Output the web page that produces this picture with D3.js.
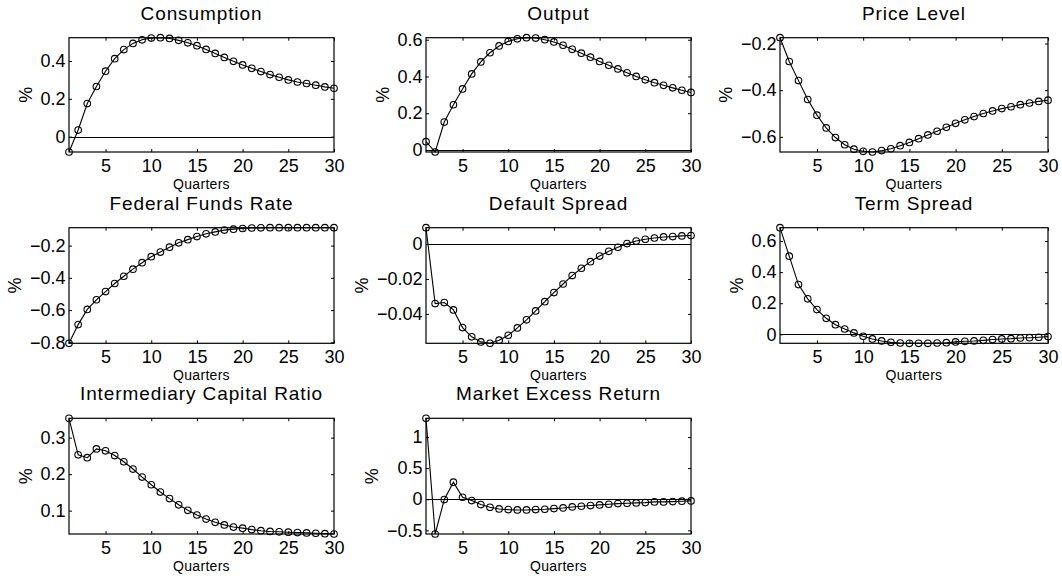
<!DOCTYPE html>
<html>
<head>
<meta charset="utf-8">
<script src="https://cdn.jsdelivr.net/npm/d3@7"></script>
<style>
body { margin: 0; background: #fff; }
text { font-family: Arial, "Liberation Sans", sans-serif; fill: #000; }
</style>
</head>
<body>
<svg id="chart" width="1062" height="576"></svg>
<script>
// impulse responses, quarters 1..30
var quarters = d3.range(1, 31);

var consumption = [-0.081, 0.035, 0.175, 0.265, 0.346, 0.412, 0.46, 0.493, 0.512, 0.521,
  0.523, 0.519, 0.509, 0.496, 0.481, 0.461, 0.44, 0.419, 0.398, 0.379,
  0.361, 0.344, 0.328, 0.314, 0.3, 0.289, 0.281, 0.272, 0.263, 0.256];
var output = [0.045, -0.011, 0.152, 0.246, 0.332, 0.414, 0.479, 0.529, 0.566, 0.591,
  0.605, 0.611, 0.609, 0.6, 0.588, 0.57, 0.548, 0.527, 0.505, 0.482,
  0.461, 0.441, 0.42, 0.4, 0.382, 0.366, 0.352, 0.338, 0.325, 0.313];
var priceLevel = [-0.175, -0.277, -0.359, -0.44, -0.507, -0.562, -0.603, -0.634, -0.653, -0.662,
  -0.665, -0.659, -0.651, -0.638, -0.624, -0.608, -0.592, -0.576, -0.559, -0.542,
  -0.527, -0.513, -0.5, -0.489, -0.479, -0.471, -0.462, -0.455, -0.448, -0.443];
var fedFunds = [-0.806, -0.69, -0.596, -0.536, -0.485, -0.435, -0.39, -0.346, -0.306, -0.269,
  -0.24, -0.21, -0.183, -0.163, -0.144, -0.127, -0.115, -0.104, -0.098, -0.094,
  -0.091, -0.09, -0.089, -0.089, -0.089, -0.089, -0.089, -0.089, -0.089, -0.089];
var defaultSpread = [0.0093, -0.0341, -0.0335, -0.0377, -0.0478, -0.0531, -0.056, -0.0568, -0.055, -0.0522,
  -0.048, -0.0434, -0.0383, -0.033, -0.0278, -0.0229, -0.0181, -0.0139, -0.0101, -0.0069,
  -0.0042, -0.0019, 0.0002, 0.0017, 0.0027, 0.0034, 0.004, 0.0042, 0.0046, 0.0048];
var termSpread = [0.686, 0.503, 0.32, 0.228, 0.159, 0.103, 0.062, 0.034, 0.009, -0.013,
  -0.03, -0.043, -0.052, -0.056, -0.058, -0.058, -0.058, -0.056, -0.054, -0.049,
  -0.045, -0.043, -0.039, -0.034, -0.03, -0.028, -0.024, -0.022, -0.019, -0.015];
var capitalRatio = [0.353, 0.253, 0.245, 0.269, 0.264, 0.251, 0.234, 0.214, 0.192, 0.171,
  0.151, 0.133, 0.116, 0.101, 0.088, 0.077, 0.068, 0.061, 0.055, 0.052,
  0.048, 0.045, 0.043, 0.042, 0.041, 0.04, 0.039, 0.038, 0.037, 0.036];
var marketExcess = [1.301, -0.559, -0.005, 0.274, 0.032, -0.022, -0.086, -0.129, -0.156, -0.167,
  -0.172, -0.172, -0.167, -0.161, -0.151, -0.14, -0.124, -0.113, -0.102, -0.091,
  -0.081, -0.07, -0.065, -0.059, -0.054, -0.043, -0.043, -0.038, -0.032, -0.027];

var titles = ["Consumption", "Output", "Price Level", "Federal Funds Rate", "Default Spread",
  "Term Spread", "Intermediary Capital Ratio", "Market Excess Return"];
var series = [consumption, output, priceLevel, fedFunds, defaultSpread, termSpread, capitalRatio, marketExcess];
var yTickValues = [
  [0, 0.2, 0.4], [0, 0.2, 0.4, 0.6], [-0.6, -0.4, -0.2], [-0.8, -0.6, -0.4, -0.2],
  [-0.04, -0.02, 0], [0, 0.2, 0.4, 0.6], [0.1, 0.2, 0.3], [-0.5, 0, 0.5, 1]
];
var xTickValues = [5, 10, 15, 20, 25, 30];

// subplot grid
var colLeft = [69, 426, 780], colRight = [334, 691, 1048];
var rowTop = [37.7, 227.7, 418.3], rowBottom = [152, 343.3, 534];

var svg = d3.select("#chart");
var fmt = d3.format("~g");

series.forEach(function(values, i) {
  var col = i % 3, row = Math.floor(i / 3);
  var x = d3.scaleLinear().domain([1, 30]).range([colLeft[col], colRight[col]]);
  var y = d3.scaleLinear().domain(d3.extent(values)).range([rowBottom[row], rowTop[row]]);
  var g = svg.append("g");

  // zero line
  var yd = y.domain();
  if (yd[0] < 0 && yd[1] > 0) {
    g.append("line")
      .attr("x1", x(1)).attr("x2", x(30))
      .attr("y1", Math.round(y(0)) + 0.5).attr("y2", Math.round(y(0)) + 0.5)
      .attr("stroke", "#000").attr("stroke-width", 1);
  }

  g.append("g").attr("transform", "translate(0," + rowBottom[row] + ")")
    .call(d3.axisBottom(x).tickValues(xTickValues).tickSizeInner(-3).tickSizeOuter(0).tickPadding(7));
  g.append("g").attr("transform", "translate(0," + rowTop[row] + ")")
    .call(d3.axisTop(x).tickValues(xTickValues).tickSizeInner(-3).tickSizeOuter(0).tickFormat(""));
  var yl = g.append("g").attr("transform", "translate(" + colLeft[col] + ",0)")
    .call(d3.axisLeft(y).tickValues(yTickValues[i]).tickSizeInner(-3).tickSizeOuter(0).tickPadding(3.5).tickFormat(fmt));
  g.append("g").attr("transform", "translate(" + colRight[col] + ",0)")
    .call(d3.axisRight(y).tickValues(yTickValues[i]).tickSizeInner(-3).tickSizeOuter(0).tickFormat(""));

  g.selectAll(".domain").remove();
  g.selectAll(".tick line").attr("stroke", "#000");
  g.selectAll(".tick text").attr("font-size", 18).attr("font-family", "Arial, 'Liberation Sans', sans-serif").attr("fill", "#000");

  g.append("rect")
    .attr("x", colLeft[col]).attr("y", rowTop[row])
    .attr("width", colRight[col] - colLeft[col]).attr("height", rowBottom[row] - rowTop[row])
    .attr("fill", "none").attr("stroke", "#000").attr("stroke-width", 1.2);

  var line = d3.line().x(function(d, k) { return x(quarters[k]); }).y(function(d) { return y(d); });
  g.append("path").datum(values)
    .attr("d", line).attr("fill", "none").attr("stroke", "#000").attr("stroke-width", 1.1);
  g.selectAll("circle.pt").data(values).enter().append("circle")
    .attr("cx", function(d, k) { return x(quarters[k]); })
    .attr("cy", function(d) { return y(d); })
    .attr("r", 3.3).attr("fill", "none").attr("stroke", "#000").attr("stroke-width", 1.1);

  var cx = (colLeft[col] + colRight[col]) / 2;
  g.append("text").attr("x", cx).attr("y", rowTop[row] - 18)
    .attr("text-anchor", "middle").attr("font-size", 19).attr("letter-spacing", "0.9px")
    .text(titles[i]);
  g.append("text").attr("x", cx).attr("y", rowBottom[row] + 36.5)
    .attr("text-anchor", "middle").attr("font-size", 14).attr("letter-spacing", "0.3px")
    .text("Quarters");

  // ylabel sits left of the widest tick label
  var minLeft = d3.min(yl.selectAll(".tick text").nodes(), function(n) {
    var b = n.getBBox(); return b.x;
  }) + colLeft[col];
  var lx = Math.max(minLeft - 15, col * 350 + 12);
  var ly = (rowTop[row] + rowBottom[row]) / 2;
  g.append("text").attr("transform", "translate(" + lx + "," + ly + ") rotate(-90)")
    .attr("text-anchor", "middle").attr("dy", "0.35em").attr("font-size", 18)
    .text("%");
});
</script>
</body>
</html>
